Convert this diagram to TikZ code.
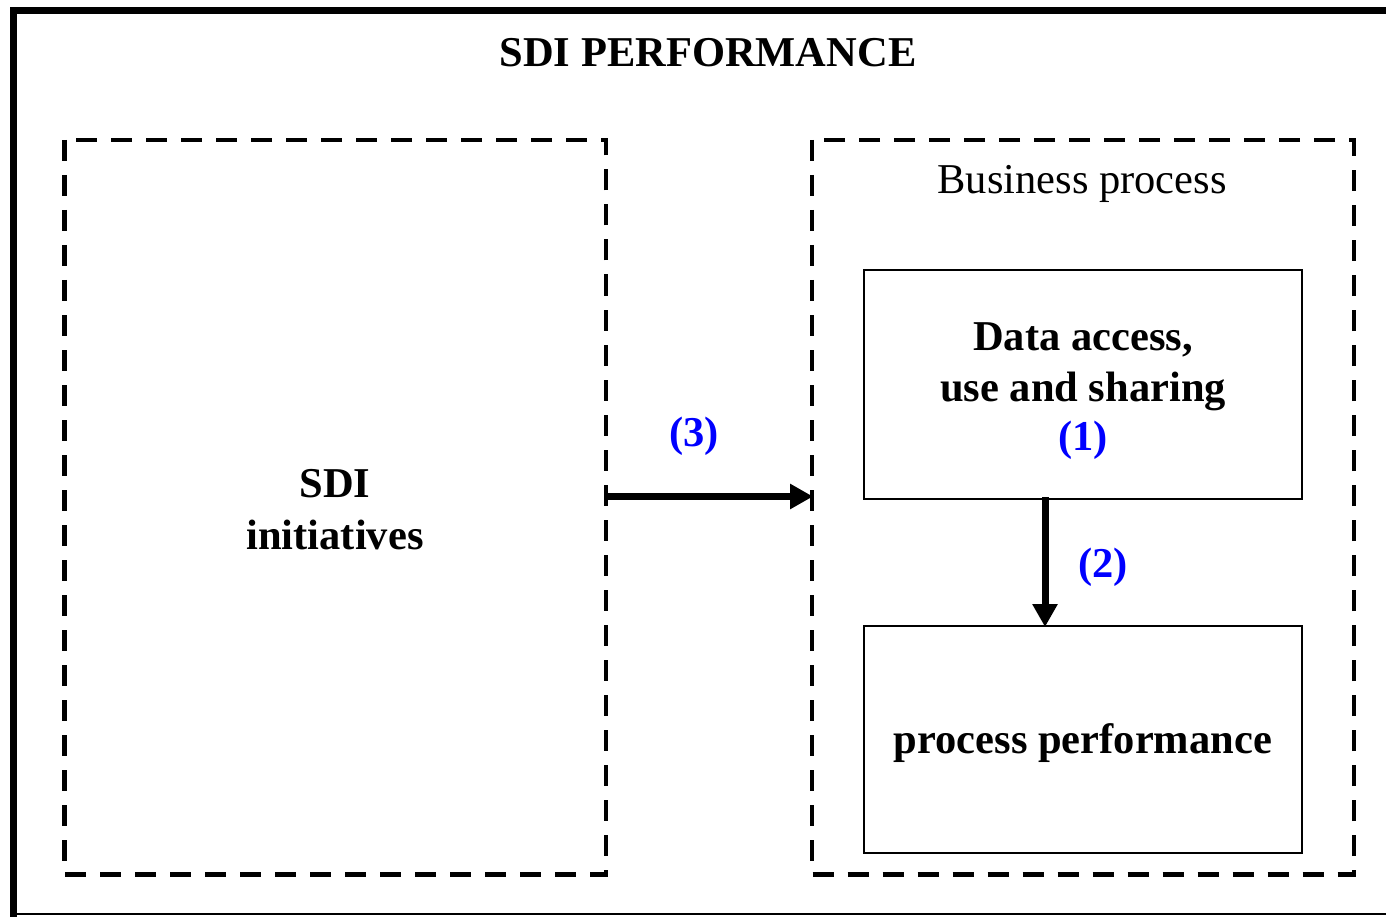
\documentclass[tikz,border=0pt]{standalone}
\usepackage{fontspec}
\setmainfont{Liberation Serif}
\usetikzlibrary{arrows.meta}
\definecolor{numblue}{RGB}{0,0,255}
\tikzset{
  txt/.style={font=\fontsize{42.5}{50}\selectfont, inner sep=0pt, anchor=base},
  btxt/.style={txt, font=\fontsize{42.5}{50}\selectfont\bfseries},
  num/.style={btxt, text=numblue},
  dashbox/.style={draw, line width=4.5pt, dash pattern=on 21pt off 14pt},
  solidbox/.style={draw, line width=2pt},
  bigarrow/.style={line width=7pt, -{Triangle[length=23pt,width=24pt]}, shorten >=-1pt},
}
\begin{document}
\begin{tikzpicture}[x=1pt,y=-1pt]
\useasboundingbox (0,0) rectangle (1386,917);
% frame
\draw[line width=7pt] (13.5,917) -- (13.5,10.5) -- (1390,10.5);
\draw[line width=2pt] (13.5,914) -- (1390,914);
\node[btxt] (title) at (708,67) {SDI PERFORMANCE};

% left dashed panel
\draw[dashbox] (64.5,140) rectangle (606,874.5);
\coordinate (leftR) at (606,496.5);
\node[btxt] (sdi) at (335,497) {SDI};
\node[btxt] (init) at (335,549) {initiatives};

% right dashed panel
\draw[dashbox] (812,140) rectangle (1354,874.5);
\coordinate (rightL) at (812,496.5);
\node[txt] (bp) at (1082,194) {Business process};

% inner boxes
\node[solidbox, minimum width=438pt, minimum height=229pt, inner sep=0pt] (access) at (1083,384.5) {};
\node[solidbox, minimum width=438pt, minimum height=227pt, inner sep=0pt] (perf) at (1083,739.5) {};
\node[btxt] (l1) at (1083,350.5) {Data access,};
\node[btxt] (l2) at (1083,401) {use and sharing};
\node[num] (n1) at (1083,450.5) {(1)};
\node[btxt] (pp) at (1083,753) {process performance};

% connectors
\coordinate (a2s) at (1045,497);
\coordinate (a2e) at (1045,626);
\draw[bigarrow] (leftR) -- (rightL);
\draw[bigarrow] (a2s) -- (a2e);
\node[num] (n3) at (694,446) {(3)};
\node[num] (n2) at (1103,577) {(2)};
\end{tikzpicture}
\end{document}
